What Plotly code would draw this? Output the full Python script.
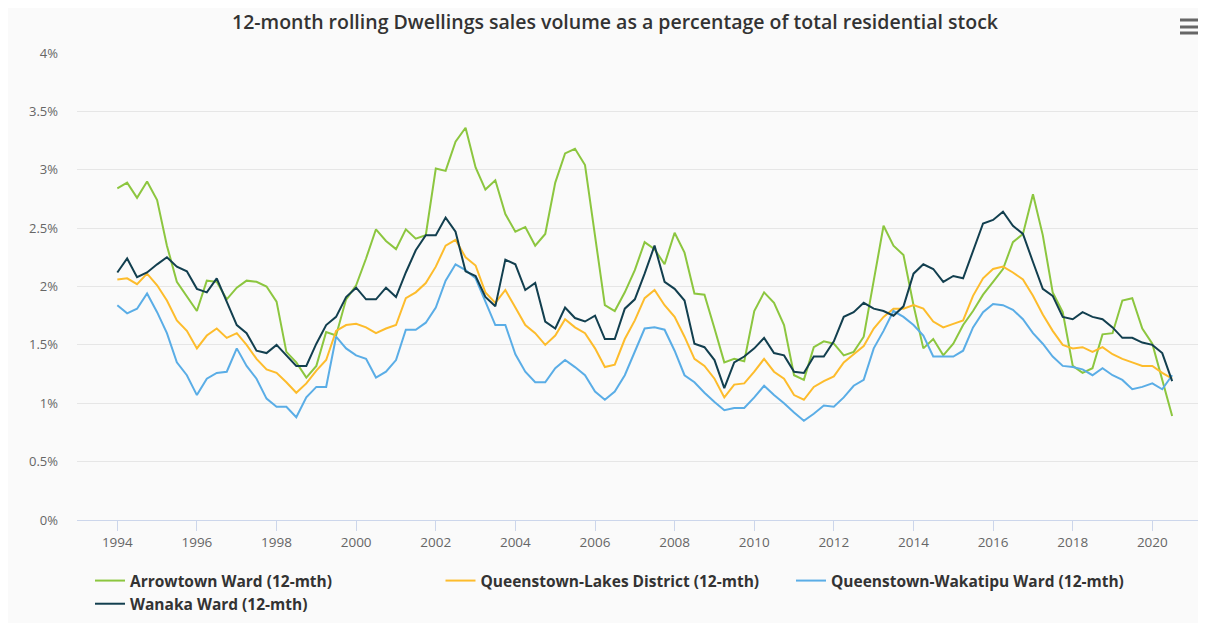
import pandas as pd
import plotly.graph_objects as go

# Quarterly observations, 1994 Q1 .. 2020 Q3
start_date = "1994-01-01"
n_periods = 107
dates = pd.date_range(start_date, periods=n_periods, freq="QS")

series_names = [
    "Arrowtown Ward (12-mth)",
    "Queenstown-Lakes District (12-mth)",
    "Queenstown-Wakatipu Ward (12-mth)",
    "Wanaka Ward (12-mth)",
]

arrowtown = [
    2.84, 2.89, 2.76, 2.90, 2.74, 2.35, 2.04, 1.92, 1.79, 2.05, 2.04, 1.89, 1.99, 2.05, 2.04, 2.00,
    1.87, 1.44, 1.35, 1.22, 1.32, 1.61, 1.58, 1.89, 2.01, 2.24, 2.49, 2.39, 2.32, 2.49, 2.41, 2.44,
    3.01, 2.99, 3.24, 3.36, 3.02, 2.83, 2.91, 2.62, 2.47, 2.51, 2.35, 2.45, 2.89, 3.14, 3.18, 3.04,
    2.44, 1.84, 1.79, 1.95, 2.14, 2.38, 2.32, 2.19, 2.46, 2.29, 1.94, 1.93, 1.64, 1.35, 1.38, 1.36,
    1.79, 1.95, 1.86, 1.67, 1.24, 1.20, 1.48, 1.53, 1.51, 1.41, 1.44, 1.57, 2.05, 2.52, 2.35, 2.27,
    1.84, 1.47, 1.55, 1.41, 1.51, 1.67, 1.79, 1.93, 2.04, 2.15, 2.38, 2.45, 2.79, 2.44, 1.95, 1.78,
    1.32, 1.26, 1.30, 1.59, 1.60, 1.88, 1.90, 1.64, 1.51, 1.21, 0.89,
]

queenstown_lakes = [
    2.06, 2.07, 2.02, 2.11, 2.01, 1.88, 1.71, 1.62, 1.47, 1.58, 1.64, 1.56, 1.60, 1.50, 1.38, 1.29,
    1.26, 1.18, 1.09, 1.17, 1.28, 1.37, 1.62, 1.67, 1.68, 1.65, 1.60, 1.64, 1.67, 1.90, 1.95, 2.03,
    2.17, 2.35, 2.40, 2.25, 2.18, 1.95, 1.86, 1.97, 1.82, 1.67, 1.60, 1.50, 1.58, 1.72, 1.65, 1.60,
    1.47, 1.31, 1.33, 1.55, 1.71, 1.90, 1.97, 1.84, 1.74, 1.57, 1.38, 1.32, 1.21, 1.05, 1.16, 1.17,
    1.27, 1.38, 1.27, 1.21, 1.07, 1.03, 1.14, 1.19, 1.23, 1.35, 1.42, 1.49, 1.64, 1.74, 1.81, 1.81,
    1.84, 1.81, 1.70, 1.65, 1.68, 1.71, 1.92, 2.07, 2.15, 2.17, 2.12, 2.06, 1.92, 1.76, 1.62, 1.50,
    1.47, 1.48, 1.44, 1.48, 1.42, 1.38, 1.35, 1.32, 1.32, 1.26, 1.21,
]

wakatipu = [
    1.84, 1.77, 1.81, 1.94, 1.78, 1.60, 1.35, 1.24, 1.07, 1.21, 1.26, 1.27, 1.47, 1.32, 1.21, 1.04,
    0.97, 0.97, 0.88, 1.05, 1.14, 1.14, 1.57, 1.47, 1.41, 1.38, 1.22, 1.27, 1.37, 1.63, 1.63, 1.69,
    1.82, 2.05, 2.19, 2.14, 2.07, 1.87, 1.67, 1.67, 1.42, 1.27, 1.18, 1.18, 1.30, 1.37, 1.31, 1.24,
    1.10, 1.03, 1.10, 1.24, 1.44, 1.64, 1.65, 1.63, 1.45, 1.24, 1.18, 1.09, 1.01, 0.94, 0.96, 0.96,
    1.05, 1.15, 1.07, 1.00, 0.92, 0.85, 0.91, 0.98, 0.97, 1.05, 1.15, 1.20, 1.47, 1.62, 1.79, 1.74,
    1.67, 1.58, 1.40, 1.40, 1.40, 1.45, 1.65, 1.78, 1.85, 1.84, 1.80, 1.72, 1.60, 1.51, 1.40, 1.32,
    1.31, 1.29, 1.24, 1.30, 1.24, 1.20, 1.12, 1.14, 1.17, 1.12, 1.24,
]

wanaka = [
    2.12, 2.24, 2.08, 2.12, 2.19, 2.25, 2.17, 2.13, 1.98, 1.95, 2.07, 1.87, 1.67, 1.60, 1.45, 1.43,
    1.50, 1.41, 1.32, 1.32, 1.51, 1.67, 1.74, 1.91, 1.99, 1.89, 1.89, 1.99, 1.91, 2.12, 2.31, 2.44,
    2.44, 2.59, 2.47, 2.13, 2.09, 1.91, 1.83, 2.23, 2.19, 1.97, 2.03, 1.70, 1.64, 1.82, 1.73, 1.70,
    1.75, 1.55, 1.55, 1.81, 1.89, 2.11, 2.35, 2.04, 1.98, 1.88, 1.51, 1.48, 1.37, 1.13, 1.35, 1.40,
    1.47, 1.56, 1.43, 1.41, 1.27, 1.26, 1.40, 1.40, 1.53, 1.74, 1.78, 1.86, 1.81, 1.79, 1.75, 1.83,
    2.11, 2.19, 2.15, 2.04, 2.09, 2.07, 2.31, 2.54, 2.57, 2.64, 2.52, 2.45, 2.21, 1.98, 1.92, 1.74,
    1.72, 1.78, 1.74, 1.72, 1.65, 1.56, 1.56, 1.52, 1.50, 1.43, 1.19,
]

series_values = [arrowtown, queenstown_lakes, wakatipu, wanaka]
series_colors = ["#8cc63f", "#fdbc2c", "#5aade6", "#123f4f"]

fig = go.Figure()
for name, vals, col in zip(series_names, series_values, series_colors):
    fig.add_trace(go.Scatter(
        x=dates, y=vals, name=name, mode="lines",
        line=dict(color=col, width=2),
        hovertemplate="%{y:.2f}%<extra>" + name + "</extra>",
    ))

# page has an 8px body margin; figure sized to fit the window
OFF = 8
W, H = 1206 - OFF, 623 - OFF
L, R, T, B = 77 - OFF, 1203 - OFF, 53 - OFF, 520 - OFF

def px_x(p):
    return (p - OFF - L) / (R - L)

def px_y(p):
    return (B - (p - OFF)) / (B - T)

shapes = []
# export (hamburger) button
for yy in (20, 27, 33):
    shapes.append(dict(type="line", xref="paper", yref="paper",
                       x0=px_x(1180), x1=px_x(1201), y0=px_y(yy), y1=px_y(yy),
                       line=dict(color="#666666", width=3)))

fig.update_layout(
    width=W, height=H,
    margin=dict(l=L, r=W - R, t=T, b=H - B, autoexpand=False),
    paper_bgcolor="#fafafa",
    plot_bgcolor="#fafafa",
    font=dict(family="Open Sans, sans-serif", color="#666666"),
    title=dict(
        text="12-month rolling Dwellings sales volume as a percentage of total residential stock",
        x=(615 - OFF) / W, xref="container", xanchor="center",
        y=1 - (22 - OFF) / H, yref="container", yanchor="middle",
        font=dict(family="Open Sans, sans-serif", size=19.5, color="#333333", weight=600),
    ),
    xaxis=dict(
        type="date",
        range=["1992-12-27", "2021-04-10"],
        tick0="1994-01-01", dtick="M24", tickformat="%Y",
        showgrid=False, zeroline=False,
        showline=True, linecolor="#ccd6eb", linewidth=1,
        ticks="outside", ticklen=10, tickcolor="#ccd6eb", tickwidth=1,
        tickfont=dict(size=13.5, color="#666666"),
    ),
    yaxis=dict(
        range=[0, 4], dtick=0.5, tick0=0, ticksuffix="%",
        showgrid=True, gridcolor="#e6e6e6", gridwidth=1,
        zeroline=False, showline=False,
        ticklabelstandoff=18,
        tickfont=dict(size=13, color="#666666"),
    ),
    legend=dict(
        orientation="h", x=px_x(90), xanchor="left", y=px_y(564), yanchor="top",
        entrywidth=305.5, entrywidthmode="pixels",
        font=dict(size=15.5, color="#333333", weight="bold"),
        bgcolor="rgba(0,0,0,0)", itemwidth=30, tracegroupgap=0,
    ),
    shapes=shapes,
    showlegend=True,
)

fig.write_html("out.html")
